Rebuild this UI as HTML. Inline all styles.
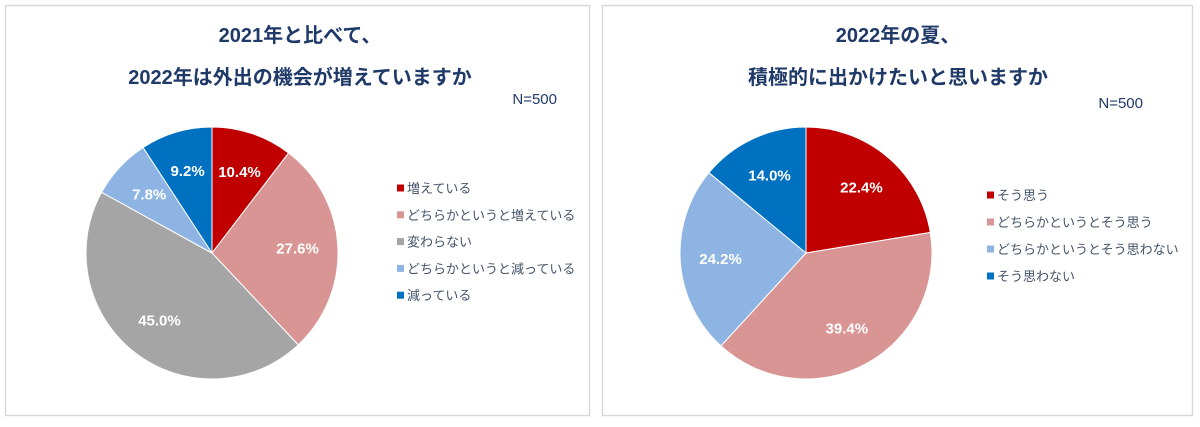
<!DOCTYPE html>
<html><head><meta charset="utf-8">
<style>
html,body{margin:0;padding:0;background:#fff;}
body{width:1200px;height:422px;overflow:hidden;font-family:"Liberation Sans","Noto Sans CJK JP",sans-serif;}
svg text{font-family:"Liberation Sans","Noto Sans CJK JP",sans-serif;}
</style></head>
<body>
<svg id="root" width="1200" height="422" viewBox="0 0 1200 422" xmlns="http://www.w3.org/2000/svg">
  <rect x="5.5" y="5.5" width="584" height="410" fill="#fff" stroke="#d9d9d9" stroke-width="1.5"/>
  <rect x="602.5" y="5.5" width="590" height="410" fill="#fff" stroke="#d9d9d9" stroke-width="1.5"/>
  <g fill="#1f3a68" font-weight="bold" font-size="20" text-anchor="middle">
    <text x="300" y="42">2021年と比べて、</text>
    <text x="300" y="84">2022年は外出の機会が増えていますか</text>
    <text x="898" y="42">2022年の夏、</text>
    <text x="898" y="84">積極的に出かけたいと思いますか</text>
  </g>
  <text x="557" y="104" fill="#1f3a68" font-size="15" text-anchor="end">N=500</text>
  <text x="1143" y="108" fill="#1f3a68" font-size="15" text-anchor="end">N=500</text>
  <g id="left-pie"></g>
  <g id="right-pie"></g>
  <g id="left-legend"></g>
  <g id="right-legend"></g>
</svg>
<script>
const leftCategories = ["増えている","どちらかというと増えている","変わらない","どちらかというと減っている","減っている"];
const leftValues = [10.4, 27.6, 45.0, 7.8, 9.2];
const leftLabels = ["10.4%","27.6%","45.0%","7.8%","9.2%"];
const rightCategories = ["そう思う","どちらかというとそう思う","どちらかというとそう思わない","そう思わない"];
const rightValues = [22.4, 39.4, 24.2, 14.0];
const rightLabels = ["22.4%","39.4%","24.2%","14.0%"];

const leftColors = ["#c00000","#d99594","#a5a5a5","#8eb4e3","#0070c0"];
const rightColors = ["#c00000","#d99594","#8eb4e3","#0070c0"];
const NS = "http://www.w3.org/2000/svg";

function drawPie(gId, values, labels, colors, cx, cy, r) {
  const g = document.getElementById(gId);
  const total = values.reduce((a,b)=>a+b,0);
  let acc = 0;
  values.forEach((v,i)=>{
    const a0 = acc/total*2*Math.PI; acc += v;
    const a1 = acc/total*2*Math.PI;
    const x0 = cx + r*Math.sin(a0), y0 = cy - r*Math.cos(a0);
    const x1 = cx + r*Math.sin(a1), y1 = cy - r*Math.cos(a1);
    const large = (a1-a0) > Math.PI ? 1 : 0;
    const p = document.createElementNS(NS,"path");
    p.setAttribute("d",`M${cx},${cy} L${x0},${y0} A${r},${r} 0 ${large} 1 ${x1},${y1} Z`);
    p.setAttribute("fill",colors[i]);
    p.setAttribute("stroke","#fff");
    p.setAttribute("stroke-width","1");
    
    
    g.appendChild(p);
    const am = (a0+a1)/2;
    const lr = r*0.68;
    const t = document.createElementNS(NS,"text");
    t.setAttribute("x", cx + lr*Math.sin(am));
    t.setAttribute("y", cy - lr*Math.cos(am) + 5);
    t.setAttribute("text-anchor","middle");
    t.setAttribute("fill","#fff");
    t.setAttribute("font-weight","bold");
    t.setAttribute("font-size","15");
    t.textContent = labels[i];
    
    
    g.appendChild(t);
  });
}

function drawLegend(gId, cats, colors, x, y0, step) {
  const g = document.getElementById(gId);
  cats.forEach((c,i)=>{
    const y = y0 + i*step;
    const m = document.createElementNS(NS,"rect");
    m.setAttribute("x",x); m.setAttribute("y",y-3.5);
    m.setAttribute("width",7); m.setAttribute("height",7);
    m.setAttribute("fill",colors[i]);
    
    
    g.appendChild(m);
    const t = document.createElementNS(NS,"text");
    t.setAttribute("x",x+10); t.setAttribute("y",y+5);
    t.setAttribute("fill","#44546a");
    t.setAttribute("font-size","13");
    t.textContent = c;
    
    
    g.appendChild(t);
  });
}

drawPie("left-pie", leftValues, leftLabels, leftColors, 212, 253, 126);
drawPie("right-pie", rightValues, rightLabels, rightColors, 806, 253, 126);
drawLegend("left-legend", leftCategories, leftColors, 397, 188, 26.8);
drawLegend("right-legend", rightCategories, rightColors, 987, 195, 27);
</script>
</body></html>
